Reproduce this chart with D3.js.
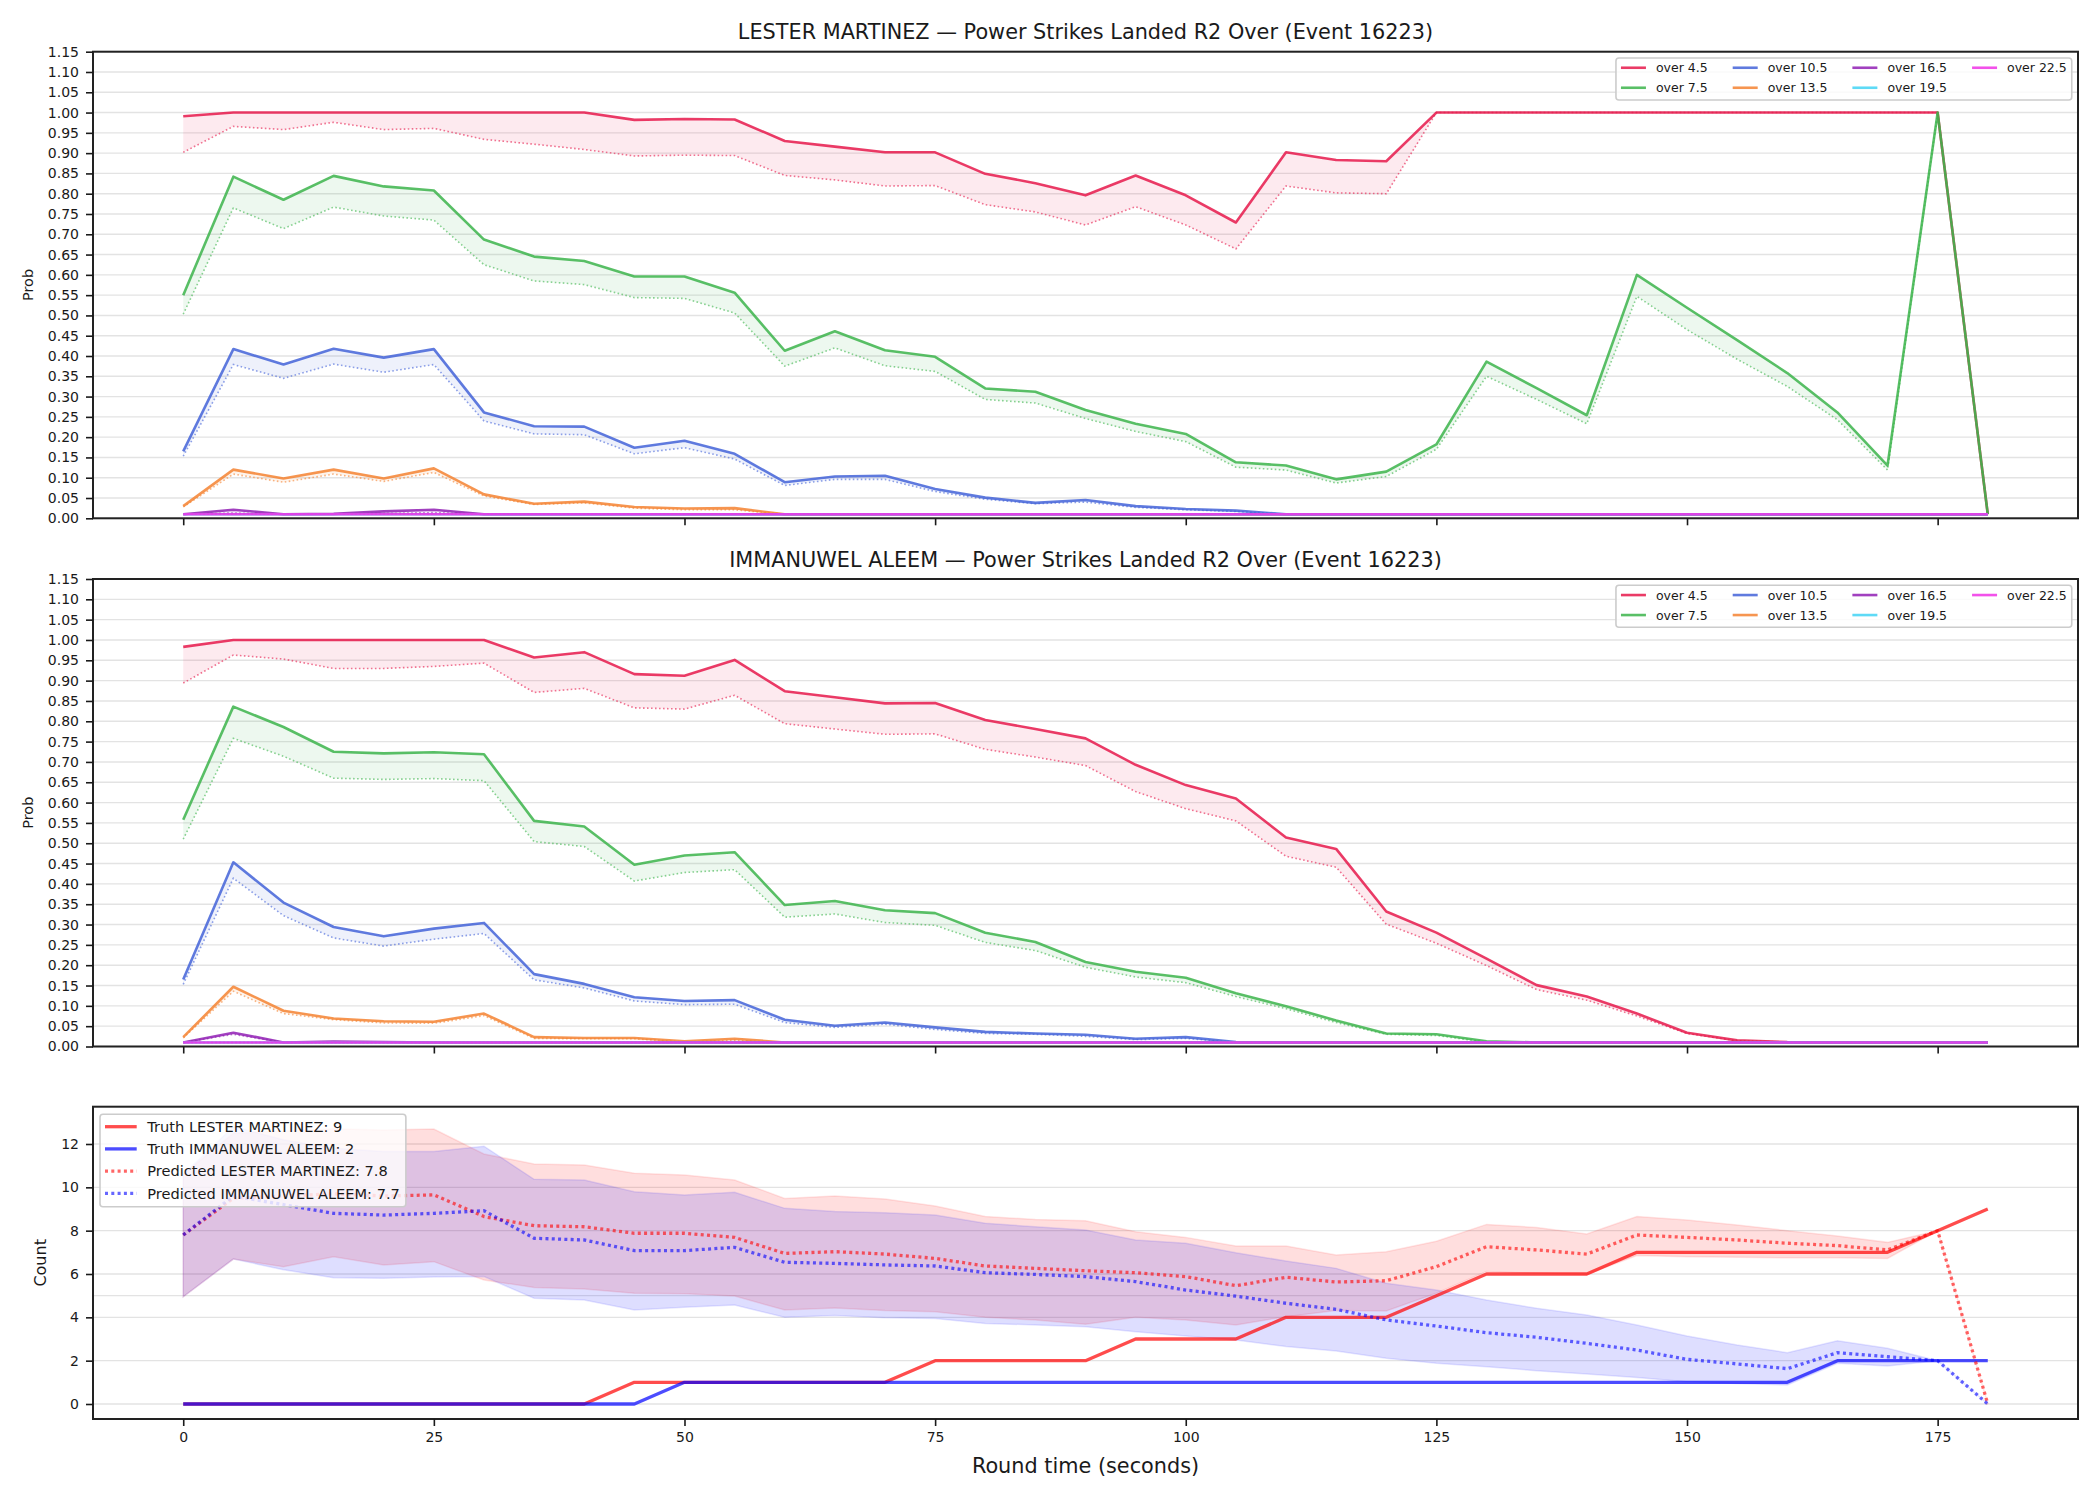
<!DOCTYPE html>
<html>
<head>
<meta charset="utf-8">
<script src="https://cdn.jsdelivr.net/npm/d3@7"></script>
<style>
  body { margin: 0; background: #fff; overflow: hidden; }
  svg { display: block; }
  text { font-family: "DejaVu Sans", sans-serif; }
</style>
</head>
<body>
<div id="chart"></div>
<script>
const width = 2100;
const height = 1500;

// =====================
// data
// =====================
const times = [0,5,10,15,20,25,30,35,40,45,
  50,55,60,65,70,75,80,85,90,95,
  100,105,110,115,120,125,130,135,140,145,
  150,155,160,165,170,175,180];

const xTicks = [0,25,50,75,100,125,150,175];
const probTicks = [0,0.05,0.1,0.15,0.2,0.25,0.3,0.35,0.4,0.45,0.5,0.55,
  0.6,0.65,0.7,0.75,0.8,0.85,0.9,0.95,1,1.05,1.1,1.15];
const countTicks = [0,2,4,6,8,10,12];

const thresholds = ["over 4.5","over 7.5","over 10.5","over 13.5","over 16.5","over 19.5","over 22.5"];

// LESTER MARTINEZ : solid line / dotted line per threshold
const lm45 = [0.991,1,1,1,1,1,1,1,1,0.982,
  0.984,0.983,0.930,0.916,0.902,0.902,0.849,0.826,0.796,0.845,
  0.796,0.729,0.902,0.883,0.880,1,1,1,1,1,
  1,1,1,1,1,1,0.01];
const lm45d = [0.902,0.966,0.958,0.976,0.958,0.961,0.934,0.922,0.909,0.893,
  0.895,0.894,0.845,0.834,0.819,0.820,0.773,0.755,0.723,0.768,
  0.723,0.664,0.819,0.802,0.800,1,1,1,1,1,
  1,1,1,1,1,1,0.01];
const lm75 = [0.550,0.842,0.785,0.844,0.818,0.808,0.687,0.645,0.634,0.596,
  0.596,0.556,0.413,0.461,0.414,0.398,0.320,0.312,0.267,0.233,
  0.208,0.138,0.130,0.096,0.115,0.182,0.386,0.321,0.254,0.600,
  0.519,0.439,0.358,0.261,0.130,1,0.01];
const lm75d = [0.503,0.765,0.714,0.767,0.745,0.735,0.625,0.585,0.576,0.544,
  0.542,0.506,0.375,0.420,0.376,0.362,0.293,0.284,0.246,0.214,
  0.189,0.126,0.119,0.087,0.103,0.170,0.350,0.293,0.233,0.547,
  0.465,0.392,0.325,0.243,0.119,1,0.01];
const lm105 = [0.165,0.417,0.379,0.418,0.396,0.417,0.261,0.227,0.226,0.174,
  0.191,0.159,0.089,0.103,0.105,0.072,0.051,0.038,0.045,0.030,
  0.023,0.019,0.01,0.01,0.01,0.01,0.01,0.01,0.01,0.01,
  0.01,0.01,0.01,0.01,0.01,0.01,0.01];
const lm105d = [0.153,0.379,0.345,0.380,0.360,0.379,0.240,0.208,0.206,0.159,
  0.174,0.146,0.081,0.096,0.096,0.066,0.047,0.036,0.040,0.027,
  0.021,0.017,0.01,0.01,0.01,0.01,0.01,0.01,0.01,0.01,
  0.01,0.01,0.01,0.01,0.01,0.01,0.01];
const lm135 = [0.030,0.120,0.098,0.120,0.098,0.123,0.059,0.036,0.041,0.028,
  0.024,0.025,0.01,0.01,0.01,0.01,0.01,0.01,0.01,0.01,
  0.01,0.01,0.01,0.01,0.01,0.01,0.01,0.01,0.01,0.01,
  0.01,0.01,0.01,0.01,0.01,0.01,0.01];
const lm135d = [0.028,0.109,0.089,0.109,0.091,0.113,0.055,0.034,0.038,0.025,
  0.021,0.021,0.01,0.01,0.01,0.01,0.01,0.01,0.01,0.01,
  0.01,0.01,0.01,0.01,0.01,0.01,0.01,0.01,0.01,0.01,
  0.01,0.01,0.01,0.01,0.01,0.01,0.01];
const lm165 = [0.010,0.021,0.010,0.011,0.017,0.021,0.01,0.01,0.01,0.01,
  0.01,0.01,0.01,0.01,0.01,0.01,0.01,0.01,0.01,0.01,
  0.01,0.01,0.01,0.01,0.01,0.01,0.01,0.01,0.01,0.01,
  0.01,0.01,0.01,0.01,0.01,0.01,0.01];
const lm165d = [0.010,0.013,0.010,0.010,0.012,0.014,0.01,0.01,0.01,0.01,
  0.01,0.01,0.01,0.01,0.01,0.01,0.01,0.01,0.01,0.01,
  0.01,0.01,0.01,0.01,0.01,0.01,0.01,0.01,0.01,0.01,
  0.01,0.01,0.01,0.01,0.01,0.01,0.01];
const lm195 = [0.01,0.01,0.01,0.01,0.01,0.01,0.01,0.01,0.01,0.01,
  0.01,0.01,0.01,0.01,0.01,0.01,0.01,0.01,0.01,0.01,
  0.01,0.01,0.01,0.01,0.01,0.01,0.01,0.01,0.01,0.01,
  0.01,0.01,0.01,0.01,0.01,0.01,0.01];
const lm195d = [0.01,0.01,0.01,0.01,0.01,0.01,0.01,0.01,0.01,0.01,
  0.01,0.01,0.01,0.01,0.01,0.01,0.01,0.01,0.01,0.01,
  0.01,0.01,0.01,0.01,0.01,0.01,0.01,0.01,0.01,0.01,
  0.01,0.01,0.01,0.01,0.01,0.01,0.01];
const lm225 = [0.01,0.01,0.01,0.01,0.01,0.01,0.01,0.01,0.01,0.01,
  0.01,0.01,0.01,0.01,0.01,0.01,0.01,0.01,0.01,0.01,
  0.01,0.01,0.01,0.01,0.01,0.01,0.01,0.01,0.01,0.01,
  0.01,0.01,0.01,0.01,0.01,0.01,0.01];
const lm225d = [0.01,0.01,0.01,0.01,0.01,0.01,0.01,0.01,0.01,0.01,
  0.01,0.01,0.01,0.01,0.01,0.01,0.01,0.01,0.01,0.01,
  0.01,0.01,0.01,0.01,0.01,0.01,0.01,0.01,0.01,0.01,
  0.01,0.01,0.01,0.01,0.01,0.01,0.01];

// IMMANUWEL ALEEM
const ia45 = [0.983,1,1,1,1,1,1,0.957,0.970,0.916,
  0.912,0.951,0.874,0.859,0.844,0.845,0.803,0.781,0.758,0.693,
  0.643,0.610,0.514,0.486,0.332,0.280,0.216,0.151,0.123,0.081,
  0.034,0.015,0.011,0.01,0.01,0.01,0.01];
const ia45d = [0.894,0.963,0.953,0.930,0.930,0.935,0.943,0.871,0.881,0.833,
  0.830,0.864,0.794,0.781,0.768,0.769,0.731,0.712,0.691,0.627,
  0.585,0.555,0.468,0.441,0.301,0.254,0.199,0.140,0.114,0.075,
  0.032,0.014,0.011,0.01,0.01,0.01,0.01];
const ia75 = [0.558,0.836,0.786,0.725,0.721,0.724,0.719,0.555,0.541,0.447,
  0.470,0.478,0.348,0.358,0.335,0.328,0.280,0.257,0.208,0.184,
  0.169,0.131,0.099,0.064,0.032,0.030,0.013,0.01,0.01,0.01,
  0.01,0.01,0.01,0.01,0.01,0.01,0.01];
const ia75d = [0.510,0.758,0.714,0.660,0.657,0.659,0.654,0.504,0.492,0.407,
  0.428,0.435,0.318,0.326,0.305,0.298,0.256,0.236,0.195,0.171,
  0.157,0.123,0.093,0.059,0.030,0.027,0.011,0.01,0.01,0.01,
  0.01,0.01,0.01,0.01,0.01,0.01,0.01];
const ia105 = [0.165,0.453,0.354,0.294,0.271,0.290,0.304,0.178,0.154,0.121,
  0.112,0.114,0.066,0.051,0.059,0.047,0.036,0.032,0.029,0.019,
  0.023,0.011,0.01,0.01,0.01,0.01,0.01,0.01,0.01,0.01,
  0.01,0.01,0.01,0.01,0.01,0.01,0.01];
const ia105d = [0.153,0.414,0.322,0.267,0.247,0.264,0.278,0.164,0.144,0.112,
  0.103,0.104,0.059,0.047,0.055,0.042,0.032,0.030,0.025,0.017,
  0.020,0.010,0.01,0.01,0.01,0.01,0.01,0.01,0.01,0.01,
  0.01,0.01,0.01,0.01,0.01,0.01,0.01];
const ia135 = [0.023,0.147,0.088,0.069,0.062,0.061,0.081,0.023,0.021,0.021,
  0.013,0.019,0.01,0.01,0.01,0.01,0.01,0.01,0.01,0.01,
  0.01,0.01,0.01,0.01,0.01,0.01,0.01,0.01,0.01,0.01,
  0.01,0.01,0.01,0.01,0.01,0.01,0.01];
const ia135d = [0.021,0.136,0.081,0.066,0.058,0.057,0.076,0.020,0.019,0.019,
  0.011,0.015,0.01,0.01,0.01,0.01,0.01,0.01,0.01,0.01,
  0.01,0.01,0.01,0.01,0.01,0.01,0.01,0.01,0.01,0.01,
  0.01,0.01,0.01,0.01,0.01,0.01,0.01];
const ia165 = [0.010,0.034,0.010,0.012,0.011,0.01,0.01,0.01,0.01,0.01,
  0.01,0.01,0.01,0.01,0.01,0.01,0.01,0.01,0.01,0.01,
  0.01,0.01,0.01,0.01,0.01,0.01,0.01,0.01,0.01,0.01,
  0.01,0.01,0.01,0.01,0.01,0.01,0.01];
const ia165d = [0.010,0.030,0.010,0.01,0.01,0.01,0.01,0.01,0.01,0.01,
  0.01,0.01,0.01,0.01,0.01,0.01,0.01,0.01,0.01,0.01,
  0.01,0.01,0.01,0.01,0.01,0.01,0.01,0.01,0.01,0.01,
  0.01,0.01,0.01,0.01,0.01,0.01,0.01];
const ia195 = [0.01,0.01,0.01,0.01,0.01,0.01,0.01,0.01,0.01,0.01,
  0.01,0.01,0.01,0.01,0.01,0.01,0.01,0.01,0.01,0.01,
  0.01,0.01,0.01,0.01,0.01,0.01,0.01,0.01,0.01,0.01,
  0.01,0.01,0.01,0.01,0.01,0.01,0.01];
const ia195d = [0.01,0.01,0.01,0.01,0.01,0.01,0.01,0.01,0.01,0.01,
  0.01,0.01,0.01,0.01,0.01,0.01,0.01,0.01,0.01,0.01,
  0.01,0.01,0.01,0.01,0.01,0.01,0.01,0.01,0.01,0.01,
  0.01,0.01,0.01,0.01,0.01,0.01,0.01];
const ia225 = [0.01,0.01,0.01,0.01,0.01,0.01,0.01,0.01,0.01,0.01,
  0.01,0.01,0.01,0.01,0.01,0.01,0.01,0.01,0.01,0.01,
  0.01,0.01,0.01,0.01,0.01,0.01,0.01,0.01,0.01,0.01,
  0.01,0.01,0.01,0.01,0.01,0.01,0.01];
const ia225d = [0.01,0.01,0.01,0.01,0.01,0.01,0.01,0.01,0.01,0.01,
  0.01,0.01,0.01,0.01,0.01,0.01,0.01,0.01,0.01,0.01,
  0.01,0.01,0.01,0.01,0.01,0.01,0.01,0.01,0.01,0.01,
  0.01,0.01,0.01,0.01,0.01,0.01,0.01];

// cumulative counts
const truthLM = [0,0,0,0,0,0,0,0,0,1,
  1,1,1,1,1,2,2,2,2,3,
  3,3,4,4,4,5,6,6,6,7,
  7,7,7,7,7,8,9];
const truthIA = [0,0,0,0,0,0,0,0,0,0,
  1,1,1,1,1,1,1,1,1,1,
  1,1,1,1,1,1,1,1,1,1,
  1,1,1,2,2,2,2];
const predLM = [7.8,9.5,9.6,9.7,9.6,9.65,8.65,8.23,8.18,7.88,
  7.88,7.69,6.95,7.03,6.92,6.72,6.37,6.26,6.15,6.06,
  5.88,5.46,5.85,5.63,5.69,6.34,7.26,7.11,6.92,7.80,
  7.69,7.57,7.42,7.31,7.11,8.0,0];
const predLMHi = [10.6,12.5,12.6,12.7,12.65,12.69,11.54,11.08,11.03,10.65,
  10.57,10.34,9.49,9.6,9.46,9.14,8.65,8.52,8.46,7.95,
  7.69,7.29,7.29,6.88,7.03,7.51,8.29,8.15,7.85,8.65,
  8.49,8.26,8.0,7.75,7.46,8.0,0];
const predLMLo = [4.95,6.69,6.34,6.8,6.42,6.57,5.72,5.38,5.31,5.11,
  5.09,4.98,4.34,4.43,4.31,4.26,4.0,3.88,3.68,4.0,
  3.88,3.65,4.03,4.31,4.29,5.11,6.11,6.03,5.98,6.85,
  6.8,6.77,6.75,6.75,6.72,8.0,0];
const predIA = [7.8,9.6,9.2,8.8,8.72,8.8,8.92,7.65,7.57,7.08,
  7.08,7.23,6.54,6.49,6.42,6.37,6.06,5.98,5.88,5.65,
  5.26,4.98,4.65,4.37,3.88,3.6,3.29,3.08,2.8,2.49,
  2.06,1.85,1.63,2.37,2.18,2.0,0];
const predIAHi = [10.6,12.8,12.2,11.8,11.65,11.65,11.9,10.37,10.34,9.8,
  9.65,9.77,9.03,8.88,8.83,8.72,8.34,8.18,8.03,7.57,
  7.42,6.98,6.6,6.26,5.57,5.26,4.8,4.42,4.11,3.65,
  3.14,2.72,2.37,2.92,2.57,2.0,0];
const predIALo = [4.95,6.69,6.2,5.83,5.8,5.86,5.88,4.88,4.8,4.34,
  4.46,4.57,4.0,4.08,3.98,3.95,3.72,3.65,3.57,3.34,
  3.14,2.95,2.65,2.45,2.11,1.88,1.72,1.54,1.38,1.22,
  1.03,0.95,0.88,1.88,1.75,2.0,0];

const countLegend = [
  "Truth LESTER MARTINEZ: 9",
  "Truth IMMANUWEL ALEEM: 2",
  "Predicted LESTER MARTINEZ: 7.8",
  "Predicted IMMANUWEL ALEEM: 7.7"
];

// =====================
// styles
// =====================
const thresholdColors = ["#e6194b","#3cb44b","#4363d8","#f58231","#911eb4","#42d4f4","#f032e6"];
const ink = "#1a1a1a";
const gridColor = "#e3e3e3";

const svg = d3.select("#chart")
  .append("svg")
  .attr("width", width)
  .attr("height", height)
  .style("background", "#fff");

const x = d3.scaleLinear().domain([-9, 189]).range([93, 2078]);
const axLeft = x.range()[0];
const axRight = x.range()[1];

// 共通: x軸の目盛り
function drawXAxis(g, bottom, withLabels) {
  const ax = d3.axisBottom(x)
    .tickValues(xTicks)
    .tickSize(7)
    .tickPadding(6)
    .tickFormat(withLabels ? d3.format("d") : () => "");
  const a = g.append("g")
    .attr("transform", `translate(0,${bottom})`)
    .call(ax);
  a.select(".domain").remove();
  a.attr("font-family", "DejaVu Sans").attr("font-size", 14).attr("color", ink);
  a.selectAll(".tick line").attr("stroke-width", 1.6);
}

function drawFrame(g, top, bottom) {
  g.append("rect")
    .attr("x", axLeft)
    .attr("y", top)
    .attr("width", axRight - axLeft)
    .attr("height", bottom - top)
    .attr("fill", "none")
    .attr("stroke", "#222")
    .attr("stroke-width", 2);
}

// =====================
// 確率パネル
// =====================
function drawProbPanel(top, bottom, title, solids, dots) {
  const y = d3.scaleLinear().domain([0, 1.15]).range([bottom, top]);
  const g = svg.append("g");

  g.selectAll(".grid")
    .data(probTicks)
    .join("line")
    .attr("x1", axLeft).attr("x2", axRight)
    .attr("y1", d => y(d)).attr("y2", d => y(d))
    .attr("stroke", gridColor)
    .attr("stroke-width", 1.4);

  const line = d3.line().x((d, j) => x(times[j])).y(d => y(d));

  thresholds.forEach((name, i) => {
    const c = thresholdColors[i];
    const area = d3.area()
      .x((d, j) => x(times[j]))
      .y0((d, j) => y(dots[i][j]))
      .y1(d => y(d));

    g.append("path")
      .datum(solids[i])
      .attr("d", area)
      .attr("fill", c)
      .attr("fill-opacity", 0.09);

    g.append("path")
      .datum(solids[i])
      .attr("d", line)
      .attr("fill", "none")
      .attr("stroke", c)
      .attr("stroke-opacity", 0.85)
      .attr("stroke-width", 2.6)
      .attr("stroke-linejoin", "round");

    g.append("path")
      .datum(dots[i])
      .attr("d", line)
      .attr("fill", "none")
      .attr("stroke", c)
      .attr("stroke-opacity", 0.6)
      .attr("stroke-width", 1.6)
      .attr("stroke-dasharray", "1.6,2.4");
  });

  drawFrame(g, top, bottom);

  const ya = g.append("g")
    .attr("transform", `translate(${axLeft},0)`)
    .call(d3.axisLeft(y).tickValues(probTicks).tickFormat(d3.format(".2f")).tickSize(7).tickPadding(7));
  ya.select(".domain").remove();
  ya.attr("font-family", "DejaVu Sans").attr("font-size", 14).attr("color", ink);
  ya.selectAll(".tick line").attr("stroke-width", 1.6);

  drawXAxis(g, bottom, false);

  g.append("text")
    .attr("x", (axLeft + axRight) / 2)
    .attr("y", top - 12.5)
    .attr("text-anchor", "middle")
    .attr("font-size", 20.8)
    .attr("fill", ink)
    .text(title);

  g.append("text")
    .attr("transform", `translate(33,${(top + bottom) / 2}) rotate(-90)`)
    .attr("text-anchor", "middle")
    .attr("font-size", 14.5)
    .attr("fill", ink)
    .text("Prob");

  // 凡例 (4列・列優先)
  const fs = 12.5;
  const handleLen = 2 * fs, handlePad = 0.8 * fs, colGap = 2 * fs, border = 0.4 * fs;
  const rowH = 20;
  const nRows = 2;
  const nCols = Math.ceil(thresholds.length / nRows);
  const lg = g.append("g");
  const texts = thresholds.map(t => lg.append("text").attr("font-size", fs).attr("fill", ink).text(t));
  const widths = texts.map(t => t.node().getComputedTextLength());
  const colW = d3.range(nCols).map(c =>
    handleLen + handlePad + d3.max(widths.filter((w, i) => Math.floor(i / nRows) === c)));
  const boxW = border * 2 + d3.sum(colW) + colGap * (nCols - 1);
  const boxRight = axRight - 0.5 * fs;
  const boxLeft = boxRight - boxW;
  const boxTop = top + 0.5 * fs;
  const row0 = boxTop + 9.8;
  const boxH = 9.8 + rowH * (nRows - 1) + 12.2;

  lg.insert("rect", "text")
    .attr("x", boxLeft).attr("y", boxTop)
    .attr("width", boxW).attr("height", boxH)
    .attr("rx", 3)
    .attr("fill", "#fff").attr("fill-opacity", 0.8)
    .attr("stroke", "#cccccc").attr("stroke-width", 1.6);

  thresholds.forEach((t, i) => {
    const c = Math.floor(i / nRows), r = i % nRows;
    const cx = boxLeft + border + d3.sum(colW.slice(0, c)) + colGap * c;
    const cy = row0 + r * rowH;
    lg.append("line")
      .attr("x1", cx).attr("x2", cx + handleLen)
      .attr("y1", cy).attr("y2", cy)
      .attr("stroke", thresholdColors[i])
      .attr("stroke-opacity", 0.85)
      .attr("stroke-width", 2.6);
    texts[i].attr("x", cx + handleLen + handlePad).attr("y", cy).attr("dy", "0.36em");
  });
}

drawProbPanel(51.7, 518.3, "LESTER MARTINEZ \u2014 Power Strikes Landed R2 Over (Event 16223)",
  [lm45, lm75, lm105, lm135, lm165, lm195, lm225],
  [lm45d, lm75d, lm105d, lm135d, lm165d, lm195d, lm225d]);

drawProbPanel(579, 1046.5, "IMMANUWEL ALEEM \u2014 Power Strikes Landed R2 Over (Event 16223)",
  [ia45, ia75, ia105, ia135, ia165, ia195, ia225],
  [ia45d, ia75d, ia105d, ia135d, ia165d, ia195d, ia225d]);

// =====================
// カウントパネル
// =====================
(function drawCountPanel() {
  const top = 1106.7, bottom = 1419;
  const y = d3.scaleLinear().domain([0, 12]).range([1404, 1144]);
  const g = svg.append("g");

  g.selectAll(".grid")
    .data(countTicks.concat([5]))
    .join("line")
    .attr("x1", axLeft).attr("x2", axRight)
    .attr("y1", d => y(d)).attr("y2", d => y(d))
    .attr("stroke", gridColor)
    .attr("stroke-width", 1.4);

  const band = (lo, hi) => d3.area()
    .x((d, j) => x(times[j]))
    .y0((d, j) => y(lo[j]))
    .y1((d, j) => y(hi[j]))(times);
  const line = d3.line().x((d, j) => x(times[j])).y(d => y(d));

  const bands = [
    { lo: predLMLo, hi: predLMHi, c: "#ff0000" },
    { lo: predIALo, hi: predIAHi, c: "#0000ff" }
  ];
  bands.forEach(b => {
    g.append("path")
      .attr("d", band(b.lo, b.hi))
      .attr("fill", b.c).attr("fill-opacity", 0.13)
      .attr("stroke", b.c).attr("stroke-opacity", 0.1).attr("stroke-width", 1.5);
  });

  const series = [
    { v: truthLM, c: "#ff0000", dash: null, op: 0.7 },
    { v: truthIA, c: "#0000ff", dash: null, op: 0.7 },
    { v: predLM, c: "#ff0000", dash: "3,3.3", op: 0.6 },
    { v: predIA, c: "#0000ff", dash: "3,3.3", op: 0.6 }
  ];
  series.forEach(s => {
    g.append("path")
      .datum(s.v)
      .attr("d", line)
      .attr("fill", "none")
      .attr("stroke", s.c)
      .attr("stroke-opacity", s.op)
      .attr("stroke-width", 3.3)
      .attr("stroke-linejoin", "round")
      .attr("stroke-dasharray", s.dash);
  });

  drawFrame(g, top, bottom);

  const ya = g.append("g")
    .attr("transform", `translate(${axLeft},0)`)
    .call(d3.axisLeft(y).tickValues(countTicks).tickFormat(d3.format("d")).tickSize(7).tickPadding(7));
  ya.select(".domain").remove();
  ya.attr("font-family", "DejaVu Sans").attr("font-size", 14).attr("color", ink);
  ya.selectAll(".tick line").attr("stroke-width", 1.6);

  drawXAxis(g, bottom, true);

  g.append("text")
    .attr("transform", `translate(46,${(top + bottom) / 2}) rotate(-90)`)
    .attr("text-anchor", "middle")
    .attr("font-size", 16)
    .attr("fill", ink)
    .text("Count");

  g.append("text")
    .attr("x", (axLeft + axRight) / 2)
    .attr("y", 1473)
    .attr("text-anchor", "middle")
    .attr("font-size", 20.8)
    .attr("fill", ink)
    .text("Round time (seconds)");

  // 凡例
  const fs = 14.6;
  const boxLeft = axLeft + 7, boxTop = top + 7.6;
  const handleLen = 31.7, handlePad = 10.6, rowH = 22.2;
  const lg = g.append("g");
  const texts = countLegend.map((t, i) => lg.append("text")
    .attr("font-size", fs).attr("fill", ink)
    .attr("x", boxLeft + 5 + handleLen + handlePad)
    .attr("y", boxTop + 12.4 + i * rowH)
    .attr("dy", "0.36em")
    .text(t));
  const maxW = d3.max(texts, t => t.node().getComputedTextLength());
  const boxW = 5 + handleLen + handlePad + maxW + 6;
  const boxH = 12.4 + rowH * (countLegend.length - 1) + 13.4;
  lg.insert("rect", "text")
    .attr("x", boxLeft).attr("y", boxTop)
    .attr("width", boxW).attr("height", boxH)
    .attr("rx", 3)
    .attr("fill", "#fff").attr("fill-opacity", 0.8)
    .attr("stroke", "#cccccc").attr("stroke-width", 1.6);
  series.forEach((s, i) => {
    const cy = boxTop + 12.4 + i * rowH;
    lg.insert("line", "text")
      .attr("x1", boxLeft + 5).attr("x2", boxLeft + 5 + handleLen)
      .attr("y1", cy).attr("y2", cy)
      .attr("stroke", s.c)
      .attr("stroke-opacity", s.op)
      .attr("stroke-width", 3.3)
      .attr("stroke-dasharray", s.dash);
  });
})();
</script>
</body>
</html>
